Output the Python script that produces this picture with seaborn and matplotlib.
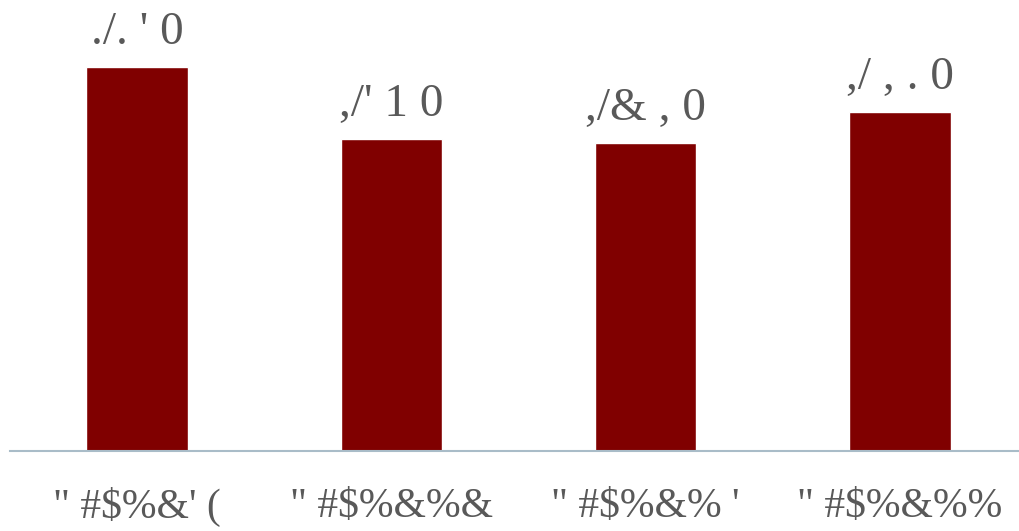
import numpy as np
import matplotlib
matplotlib.use("Agg")
import matplotlib.pyplot as plt
import seaborn as sns

# categories and values (labels kept as shown in the reference)
categories = ["\" #$%&' (", "\" #$%&%&", "\" #$%&% '", "\" #$%&%%"]
values = [8.81, 7.16, 7.07, 7.78]
value_labels = ["./. ' 0", ",/' 1 0", ",/& , 0", ",/ , . 0"]

sns.set_theme(style="white")
plt.rcParams['font.family'] = ['Liberation Serif']

fig = plt.figure(figsize=(10.2, 5.31), dpi=100)
ax = fig.add_axes([10 / 1020, 80 / 531, 1017 / 1020, 451 / 531])

sns.barplot(x=categories, y=values, color="#800000", saturation=1,
            width=0.4, ax=ax)

ax.set_xlim(-0.5, 3.5)
ax.set_ylim(0, 10.34)

# value labels above bars
for i, (v, lab) in enumerate(zip(values, value_labels)):
    ax.text(i, v + 0.3, lab, ha="center", va="bottom",
            fontsize=34, color="#595959")

ax.set_yticks([])
ax.tick_params(axis="x", length=0, pad=26, labelsize=30, labelcolor="#595959")

for s in ["top", "right", "left"]:
    ax.spines[s].set_visible(False)
ax.spines["bottom"].set_color("#a9bcc8")
ax.spines["bottom"].set_linewidth(1.5)

fig.savefig("out.png", dpi=100)
